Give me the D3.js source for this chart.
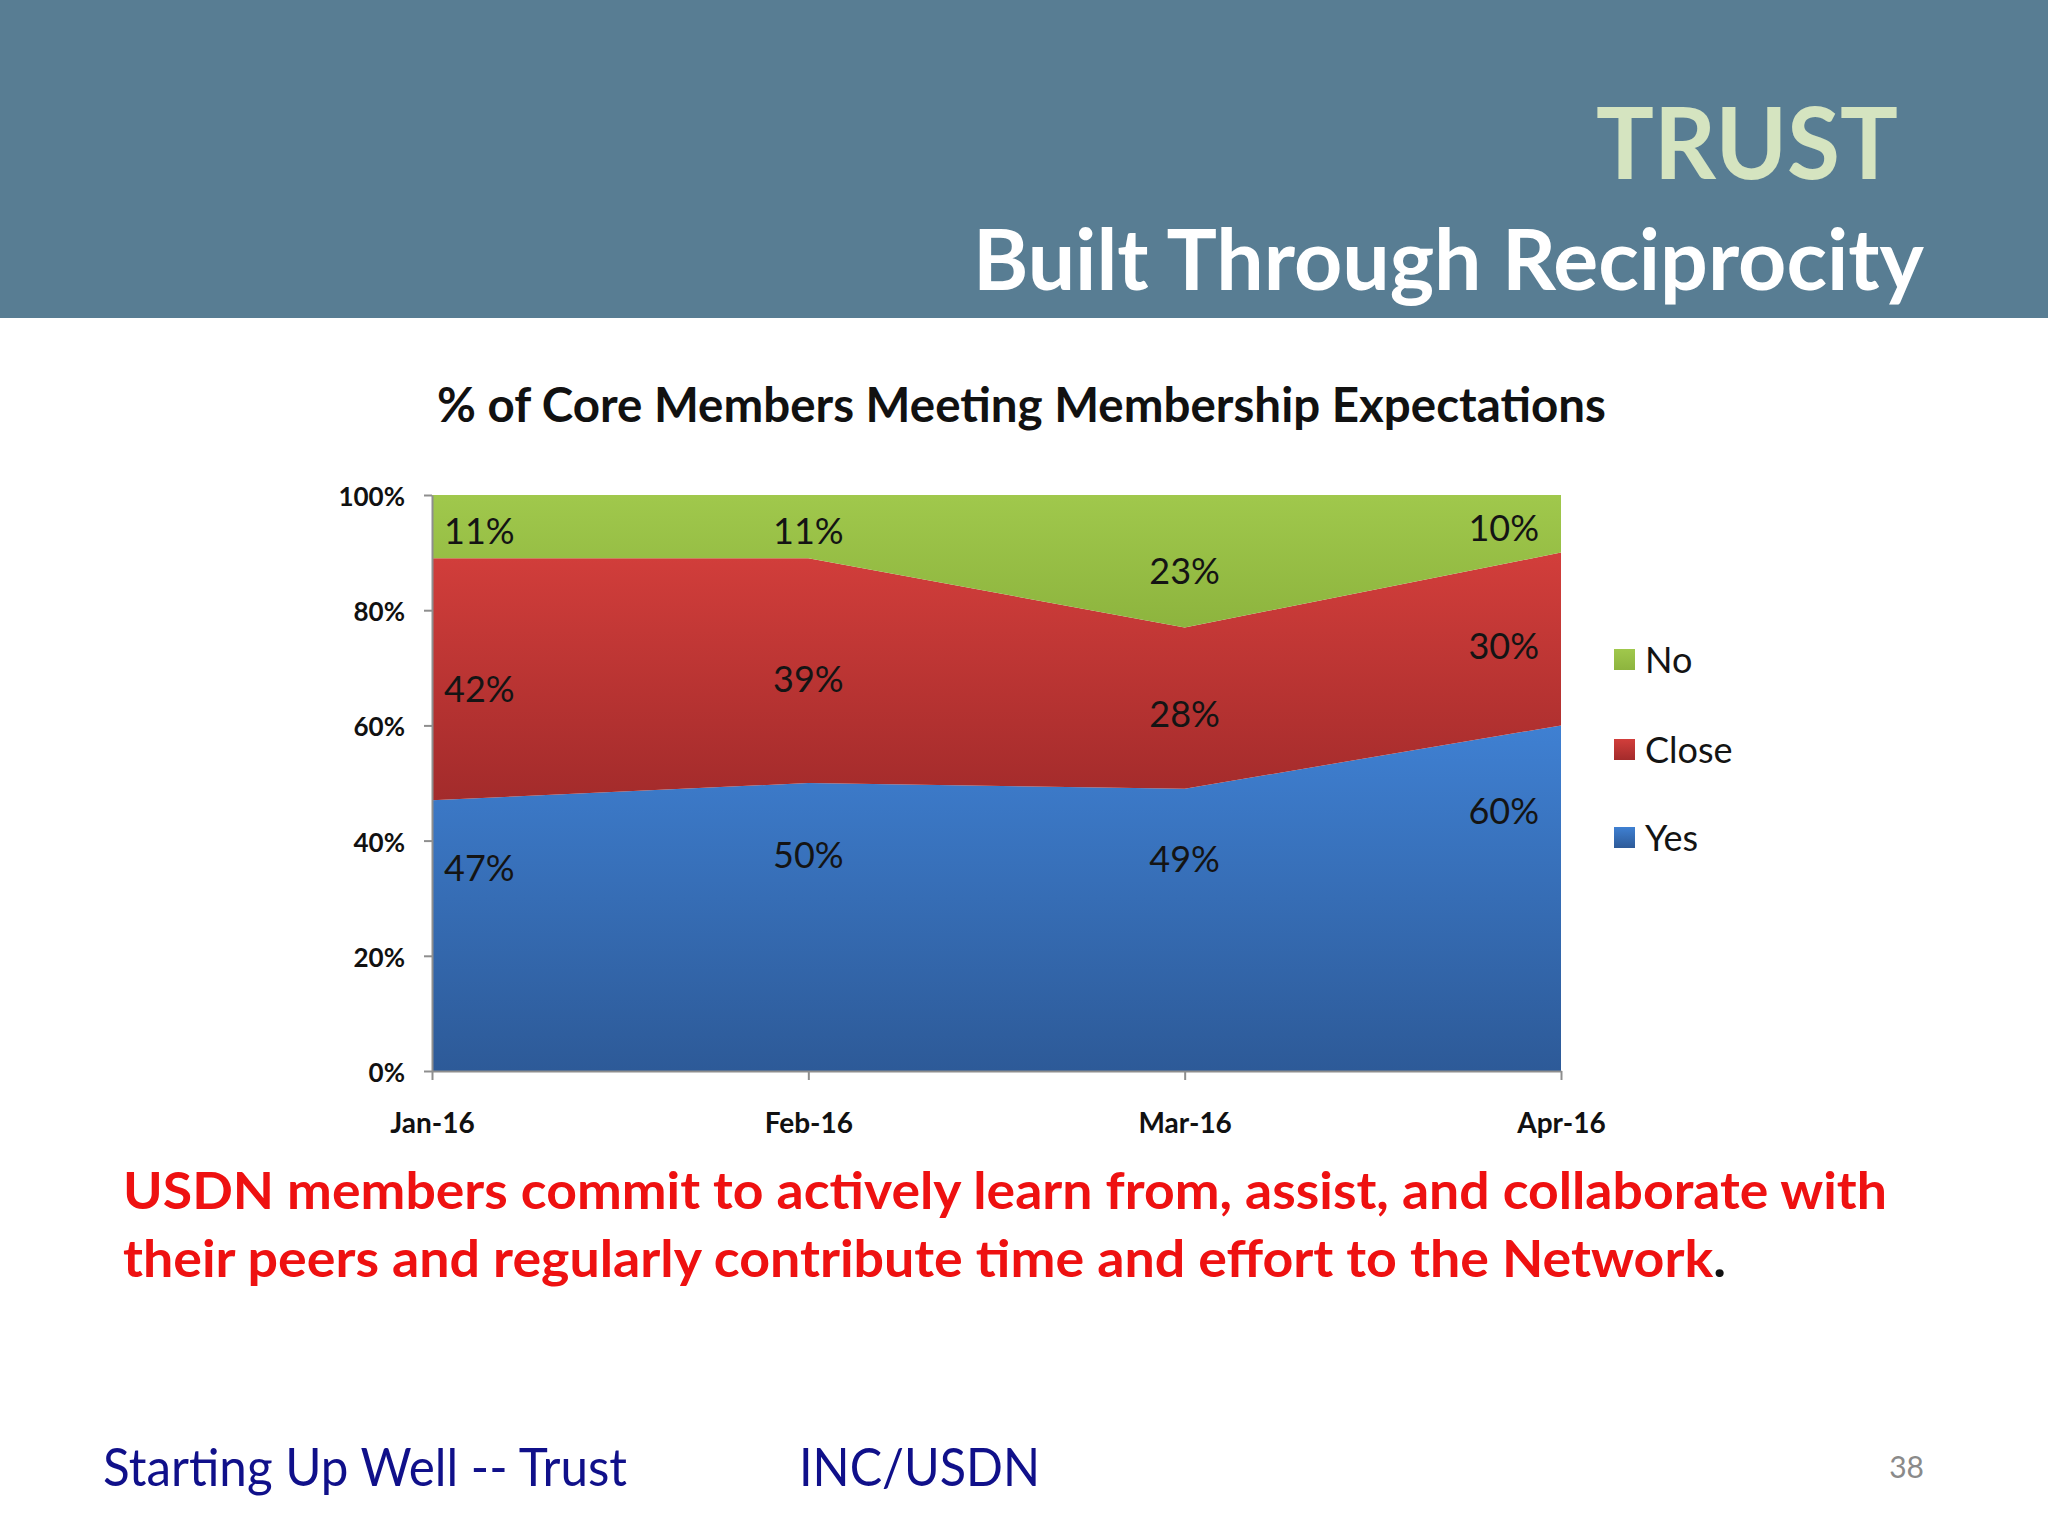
<!DOCTYPE html>
<html>
<head>
<meta charset="utf-8">
<script src="https://cdn.jsdelivr.net/npm/d3@7/dist/d3.min.js"></script>
<style>
  body { margin: 0; background: #fff; }
  svg { display: block; }
</style>
</head>
<body>
<script>
// chart data
var months = ["Jan-16", "Feb-16", "Mar-16", "Apr-16"];
var seriesNames = ["Yes", "Close", "No"];
var yesVals = [47, 50, 49, 60];
var closeVals = [42, 39, 28, 30];
var noVals = [11, 11, 23, 10];
var yTicks = [0, 20, 40, 60, 80, 100];
var legendOrder = ["No", "Close", "Yes"];

var W = 2048, H = 1536;
var plot = { left: 432, right: 1561, top: 495, bottom: 1071 };

var colors = {
    Yes:   ["#3f80d2", "#2d5a98"],
    Close: ["#d23e3b", "#a32b2b"],
    No:    ["#a0c84c", "#8db43e"]
};
// where inside each band the value label sits (fraction of band height)
var labelFrac = { Yes: 0.75, Close: 0.46, No: 0.42 };

var table = months.map(function (m, i) {
    return { month: m, Yes: yesVals[i], Close: closeVals[i], No: noVals[i] };
});

var svg = d3.select("body").append("svg")
    .attr("width", W).attr("height", H);

var defs = svg.append("defs");
seriesNames.forEach(function (s) {
    var g = defs.append("linearGradient")
        .attr("id", "grad" + s)
        .attr("x1", 0).attr("y1", 0).attr("x2", 0).attr("y2", 1);
    g.append("stop").attr("offset", "0%").attr("stop-color", colors[s][0]);
    g.append("stop").attr("offset", "100%").attr("stop-color", colors[s][1]);
});

// header band
svg.append("rect").attr("x", 0).attr("y", 0).attr("width", W).attr("height", 318)
    .attr("fill", "#587d93");
svg.append("text")
    .attr("x", 1898).attr("y", 179)
    .attr("text-anchor", "end")
    .attr("font-family", "Lato, sans-serif").attr("font-weight", "bold")
    .attr("font-size", 100)
    .attr("textLength", 302).attr("lengthAdjust", "spacingAndGlyphs")
    .attr("fill", "#d5e4c0")
    .text("TRUST");
svg.append("text")
    .attr("x", 973).attr("y", 290)
    .attr("font-family", "Lato, sans-serif").attr("font-weight", "bold")
    .attr("font-size", 84)
    .attr("textLength", 951).attr("lengthAdjust", "spacingAndGlyphs")
    .attr("fill", "#ffffff")
    .text("Built Through Reciprocity");

// chart title
svg.append("text")
    .attr("x", 437).attr("y", 422)
    .attr("font-family", "Lato, sans-serif").attr("font-weight", "bold")
    .attr("font-size", 48)
    .attr("textLength", 1169).attr("lengthAdjust", "spacingAndGlyphs")
    .attr("fill", "#111")
    .text("% of Core Members Meeting Membership Expectations");

var x = d3.scalePoint().domain(months).range([plot.left, plot.right]).padding(0);
var y = d3.scaleLinear().domain([0, 100]).range([plot.bottom, plot.top]);

var stack = d3.stack().keys(seriesNames);
var layers = stack(table);

var area = d3.area()
    .x(function (d) { return x(d.data.month); })
    .y0(function (d) { return y(d[0]); })
    .y1(function (d) { return y(d[1]); });

svg.append("g").selectAll("path")
    .data(layers)
    .enter()
    .append("path")
    .attr("d", area)
    .attr("fill", function (d) { return "url(#grad" + d.key + ")"; });

// value labels
layers.forEach(function (layer) {
    var key = layer.key;
    svg.append("g").selectAll("text")
        .data(layer)
        .enter()
        .append("text")
        .attr("x", function (d, i) {
            if (i == 0) return x(d.data.month) + 12;
            if (i == months.length - 1) return x(d.data.month) - 22;
            return x(d.data.month);
        })
        .attr("y", function (d) {
            return y(d[0] + (d[1] - d[0]) * labelFrac[key]);
        })
        .attr("dy", "0.35em")
        .attr("text-anchor", function (d, i) {
            if (i == 0) return "start";
            if (i == months.length - 1) return "end";
            return "middle";
        })
        .attr("font-family", "Lato, sans-serif")
        .attr("font-size", 36)
        .attr("fill", "#141414")
        .text(function (d) { return (d[1] - d[0]) + "%"; });
});

// axes
var yAxis = d3.axisLeft(y)
    .tickValues(yTicks)
    .tickFormat(function (d) { return d + "%"; })
    .tickSize(8).tickSizeOuter(0).tickPadding(19);
var gy = svg.append("g").attr("transform", "translate(" + plot.left + ",0)").call(yAxis);

var xAxis = d3.axisBottom(x).tickSize(9).tickSizeOuter(0).tickPadding(33);
var gx = svg.append("g").attr("transform", "translate(0," + plot.bottom + ")").call(xAxis);

[gy, gx].forEach(function (g) {
    g.select(".domain").attr("stroke", "#8e8e8e").attr("stroke-width", 2);
    g.selectAll(".tick line").attr("stroke", "#8e8e8e").attr("stroke-width", 2);
    g.selectAll(".tick text")
        .attr("font-family", "Lato, sans-serif").attr("font-weight", "bold")
        .attr("fill", "#111");
});
gy.selectAll(".tick text").attr("font-size", 26).attr("dy", "0.4em");
gx.selectAll(".tick text").attr("font-size", 28);

// legend
var legendY = { No: 660, Close: 750, Yes: 838 };
var legend = svg.append("g").selectAll("g")
    .data(legendOrder)
    .enter()
    .append("g")
    .attr("transform", function (d) { return "translate(1614," + legendY[d] + ")"; });
legend.append("rect")
    .attr("x", 0).attr("y", -11).attr("width", 21).attr("height", 21)
    .attr("fill", function (d) { return "url(#grad" + d + ")"; });
legend.append("text")
    .attr("x", 31).attr("y", 0).attr("dy", "0.36em")
    .attr("font-family", "Lato, sans-serif")
    .attr("font-size", 36).attr("fill", "#141414")
    .text(function (d) { return d; });

// red statement
var red = svg.append("g")
    .attr("font-family", "Lato, sans-serif").attr("font-weight", "bold")
    .attr("font-size", 52);
red.append("text")
    .attr("x", 123).attr("y", 1209)
    .attr("textLength", 1764).attr("lengthAdjust", "spacingAndGlyphs")
    .attr("fill", "#ee1111")
    .text("USDN members commit to actively learn from, assist, and collaborate with");
var line2 = red.append("text")
    .attr("x", 123).attr("y", 1277)
    .attr("textLength", 1603).attr("lengthAdjust", "spacingAndGlyphs");
line2.append("tspan").attr("fill", "#ee1111")
    .text("their peers and regularly contribute time and effort to the Network");
line2.append("tspan").attr("fill", "#111").text(".");

// footer
svg.append("text")
    .attr("x", 103).attr("y", 1486)
    .attr("font-family", "Lato, sans-serif").attr("font-size", 52)
    .attr("textLength", 524).attr("lengthAdjust", "spacingAndGlyphs")
    .attr("fill", "#10108a")
    .text("Starting Up Well -- Trust");
svg.append("text")
    .attr("x", 799).attr("y", 1486)
    .attr("font-family", "Lato, sans-serif").attr("font-size", 52)
    .attr("textLength", 241).attr("lengthAdjust", "spacingAndGlyphs")
    .attr("fill", "#10108a")
    .text("INC/USDN");
svg.append("text")
    .attr("x", 1924).attr("y", 1478)
    .attr("text-anchor", "end")
    .attr("font-family", "Lato, sans-serif").attr("font-size", 30)
    .attr("fill", "#8a8a8a")
    .text("38");
</script>
</body>
</html>
